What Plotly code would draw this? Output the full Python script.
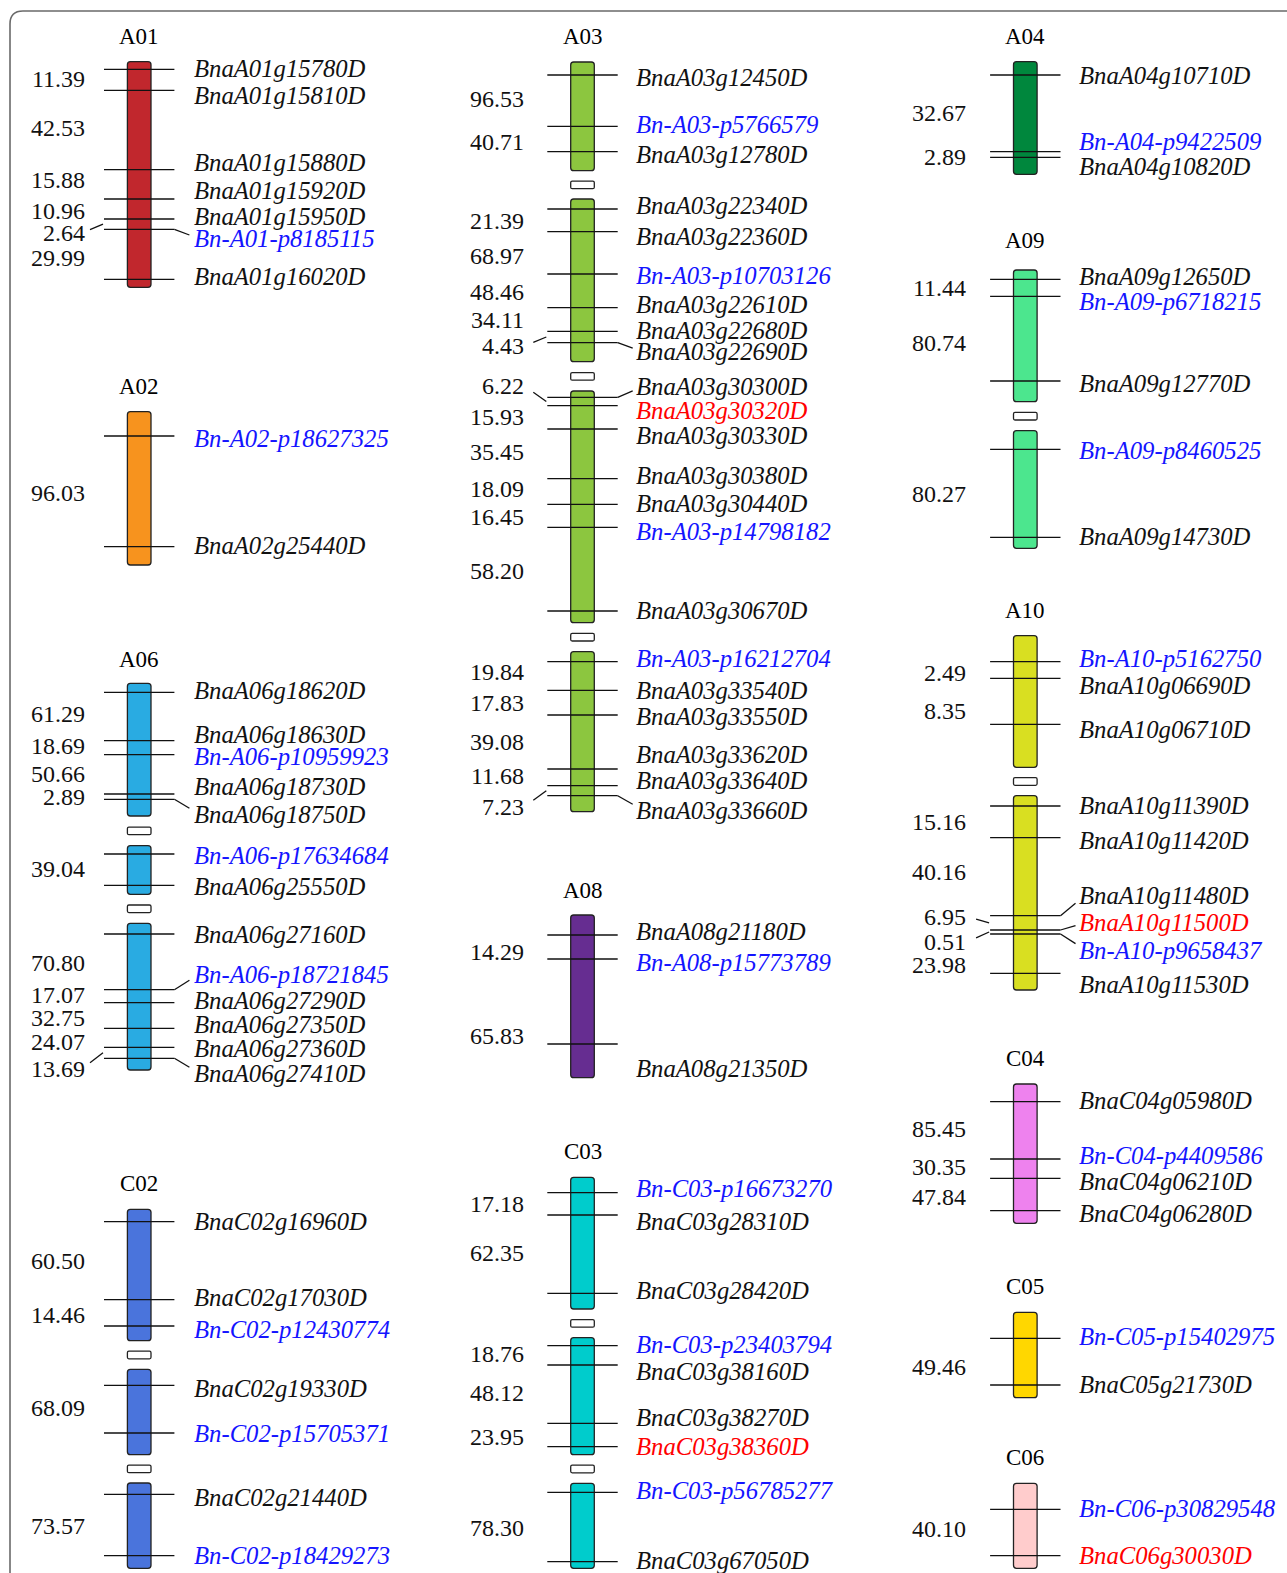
import plotly.graph_objects as go

W, H = 1287, 1573

# ------------------------------------------------------------------
# DATA (marker positions, in map units = px)
# ------------------------------------------------------------------
# ---- column 1 ----
A01_genes = ["BnaA01g15780D", "BnaA01g15810D", "BnaA01g15880D", "BnaA01g15920D",
             "BnaA01g15950D", "Bn-A01-p8185115", "BnaA01g16020D"]
A01_pos = [69.3, 90.3, 169.7, 199.0, 219.0, 229.3, 279.3]
A01_dist = ["11.39", "42.53", "15.88", "10.96", "2.64", "29.99"]
A01_segs = [(61.7, 287.3)]

A02_genes = ["Bn-A02-p18627325", "BnaA02g25440D"]
A02_pos = [436.0, 546.7]
A02_dist = ["96.03"]
A02_segs = [(411.7, 565.0)]

A06_genes = ["BnaA06g18620D", "BnaA06g18630D", "Bn-A06-p10959923", "BnaA06g18730D",
             "BnaA06g18750D", "Bn-A06-p17634684", "BnaA06g25550D", "BnaA06g27160D",
             "Bn-A06-p18721845", "BnaA06g27290D", "BnaA06g27350D", "BnaA06g27360D",
             "BnaA06g27410D"]
A06_pos = [692.3, 740.7, 754.7, 794.0, 799.3, 854.0, 885.3, 934.0, 989.7, 1002.7,
           1028.3, 1047.3, 1058.3]
A06_dist = ["61.29", "18.69", "50.66", "2.89", "39.04", "70.80", "17.07", "32.75",
            "24.07", "13.69"]
A06_segs = [(683.3, 816.0), (845.7, 894.3), (923.3, 1070.0)]

C02_genes = ["BnaC02g16960D", "BnaC02g17030D", "Bn-C02-p12430774", "BnaC02g19330D",
             "Bn-C02-p15705371", "BnaC02g21440D", "Bn-C02-p18429273"]
C02_pos = [1221.7, 1299.7, 1326.0, 1385.3, 1433.0, 1494.3, 1555.7]
C02_dist = ["60.50", "14.46", "68.09", "73.57"]
C02_segs = [(1209.3, 1340.7), (1369.3, 1454.7), (1483.0, 1568.3)]

# ---- column 2 ----
A03_genes = ["BnaA03g12450D", "Bn-A03-p5766579", "BnaA03g12780D", "BnaA03g22340D",
             "BnaA03g22360D", "Bn-A03-p10703126", "BnaA03g22610D", "BnaA03g22680D",
             "BnaA03g22690D", "BnaA03g30300D", "BnaA03g30320D", "BnaA03g30330D",
             "BnaA03g30380D", "BnaA03g30440D", "Bn-A03-p14798182", "BnaA03g30670D",
             "Bn-A03-p16212704", "BnaA03g33540D", "BnaA03g33550D", "BnaA03g33620D",
             "BnaA03g33640D", "BnaA03g33660D"]
A03_pos = [75.0, 126.3, 151.7, 209.0, 231.7, 274.0, 307.7, 331.3, 342.7, 397.3, 405.7,
           429.0, 478.7, 504.3, 527.3, 611.0, 661.7, 690.3, 715.0, 769.0, 785.7, 795.7]
A03_dist = ["96.53", "40.71", "21.39", "68.97", "48.46", "34.11", "4.43", "6.22",
            "15.93", "35.45", "18.09", "16.45", "58.20", "19.84", "17.83", "39.08",
            "11.68", "7.23"]
A03_segs = [(62.0, 170.7), (199.0, 361.7), (391.0, 622.7), (651.7, 811.7)]

A08_genes = ["BnaA08g21180D", "Bn-A08-p15773789", "BnaA08g21350D"]
A08_pos = [935.0, 959.0, 1044.0]
A08_dist = ["14.29", "65.83"]
A08_segs = [(915.0, 1077.7)]

C03_genes = ["Bn-C03-p16673270", "BnaC03g28310D", "BnaC03g28420D", "Bn-C03-p23403794",
             "BnaC03g38160D", "BnaC03g38270D", "BnaC03g38360D", "Bn-C03-p56785277",
             "BnaC03g67050D"]
C03_pos = [1192.7, 1215.0, 1293.3, 1345.7, 1365.0, 1423.3, 1446.7, 1492.3, 1561.7]
C03_dist = ["17.18", "62.35", "18.76", "48.12", "23.95", "78.30"]
C03_segs = [(1177.3, 1309.0), (1337.7, 1454.7), (1483.3, 1568.3)]

# ---- column 3 ----
A04_genes = ["BnaA04g10710D", "Bn-A04-p9422509", "BnaA04g10820D"]
A04_pos = [75.0, 151.7, 157.3]
A04_dist = ["32.67", "2.89"]
A04_segs = [(61.7, 174.3)]

A09_genes = ["BnaA09g12650D", "Bn-A09-p6718215", "BnaA09g12770D", "Bn-A09-p8460525",
             "BnaA09g14730D"]
A09_pos = [279.3, 296.3, 381.0, 449.3, 537.3]
A09_dist = ["11.44", "80.74", "80.27"]
A09_segs = [(270.0, 401.7), (430.7, 548.3)]

A10_genes = ["Bn-A10-p5162750", "BnaA10g06690D", "BnaA10g06710D", "BnaA10g11390D",
             "BnaA10g11420D", "BnaA10g11480D", "BnaA10g11500D", "Bn-A10-p9658437",
             "BnaA10g11530D"]
A10_pos = [661.7, 678.3, 724.3, 806.0, 837.7, 915.7, 930.0, 934.0, 973.3]
A10_dist = ["2.49", "8.35", "15.16", "40.16", "6.95", "0.51", "23.98"]
A10_segs = [(635.7, 767.3), (795.7, 990.0)]

C04_genes = ["BnaC04g05980D", "Bn-C04-p4409586", "BnaC04g06210D", "BnaC04g06280D"]
C04_pos = [1101.7, 1159.0, 1178.3, 1210.7]
C04_dist = ["85.45", "30.35", "47.84"]
C04_segs = [(1084.0, 1223.3)]

C05_genes = ["Bn-C05-p15402975", "BnaC05g21730D"]
C05_pos = [1338.3, 1385.0]
C05_dist = ["49.46"]
C05_segs = [(1312.3, 1397.7)]

C06_genes = ["Bn-C06-p30829548", "BnaC06g30030D"]
C06_pos = [1509.3, 1555.7]
C06_dist = ["40.10"]
C06_segs = [(1483.3, 1568.3)]

RED_GENES = ["BnaA03g30320D", "BnaA10g11500D", "BnaC03g38360D", "BnaC06g30030D"]

# ------------------------------------------------------------------
# LAYOUT (label placement, colours)
# ------------------------------------------------------------------
COL_CX = [139.2, 582.5, 1025.3]
LABEL_DX = [53.2, 51.7, 51.7]
DIST_DX = [-52.6, -56.9, -57.0]

CHROMS = [
    dict(name="A01", col=0, title_y=36.7, color="#C1272D", genes=A01_genes, pos=A01_pos,
         segs=A01_segs, dist=A01_dist,
         label_y=[68.5, 95.5, 162.5, 190.5, 216.7, 238.8, 276.8],
         dist_y=[79.3, 128.3, 180.0, 210.7, 233.3, 257.7],
         gene_leaders=[5], dist_leaders={4: 4}),
    dict(name="A02", col=0, title_y=386.7, color="#F7931E", genes=A02_genes, pos=A02_pos,
         segs=A02_segs, dist=A02_dist, label_y=[438.3, 545.0], dist_y=[492.7],
         gene_leaders=[], dist_leaders={}),
    dict(name="A06", col=0, title_y=659.3, color="#29ABE2", genes=A06_genes, pos=A06_pos,
         segs=A06_segs, dist=A06_dist,
         label_y=[690.0, 734.3, 756.7, 786.7, 814.3, 855.0, 886.0, 934.0, 974.0, 1000.0,
                  1024.3, 1048.7, 1073.3],
         dist_y=[714.0, 746.0, 774.0, 796.7, 869.3, 963.3, 995.0, 1018.3, 1041.7, 1069.3],
         gene_leaders=[4, 8, 12], dist_leaders={9: 11}),
    dict(name="C02", col=0, title_y=1183.3, color="#4A74DC", genes=C02_genes, pos=C02_pos,
         segs=C02_segs, dist=C02_dist,
         label_y=[1221.0, 1297.7, 1329.3, 1388.3, 1433.3, 1497.7, 1555.7],
         dist_y=[1260.7, 1315.0, 1408.3, 1526.0],
         gene_leaders=[], dist_leaders={}),
    dict(name="A03", col=1, title_y=36.7, color="#8CC63F", genes=A03_genes, pos=A03_pos,
         segs=A03_segs, dist=A03_dist,
         label_y=[77.3, 124.3, 154.3, 205.0, 236.7, 275.0, 304.0, 330.0, 351.7, 386.7,
                  410.7, 435.0, 475.0, 503.3, 531.7, 610.0, 658.3, 690.0, 716.0, 754.3,
                  780.0, 810.0],
         dist_y=[99.3, 141.7, 220.7, 256.0, 291.7, 320.0, 346.0, 386.0, 416.7, 452.3,
                 489.0, 517.3, 571.0, 671.7, 703.3, 742.3, 775.7, 806.7],
         gene_leaders=[8, 9, 21], dist_leaders={6: 7, 7: 9, 17: 20}),
    dict(name="A08", col=1, title_y=890.0, color="#662D91", genes=A08_genes, pos=A08_pos,
         segs=A08_segs, dist=A08_dist, label_y=[931.0, 962.7, 1068.7],
         dist_y=[951.7, 1035.7], gene_leaders=[], dist_leaders={}),
    dict(name="C03", col=1, title_y=1151.7, color="#00CCCC", genes=C03_genes, pos=C03_pos,
         segs=C03_segs, dist=C03_dist,
         label_y=[1188.3, 1221.7, 1290.7, 1344.0, 1371.0, 1417.3, 1446.7, 1490.7, 1560.0],
         dist_y=[1204.3, 1252.7, 1354.3, 1392.7, 1436.7, 1528.3],
         gene_leaders=[], dist_leaders={}),
    dict(name="A04", col=2, title_y=36.7, color="#00873D", genes=A04_genes, pos=A04_pos,
         segs=A04_segs, dist=A04_dist, label_y=[75.0, 141.7, 166.7],
         dist_y=[112.7, 156.7], gene_leaders=[], dist_leaders={}),
    dict(name="A09", col=2, title_y=240.7, color="#4CE68E", genes=A09_genes, pos=A09_pos,
         segs=A09_segs, dist=A09_dist, label_y=[276.0, 301.7, 383.3, 450.0, 536.7],
         dist_y=[288.3, 343.3, 494.0], gene_leaders=[], dist_leaders={}),
    dict(name="A10", col=2, title_y=610.0, color="#D9DF21", genes=A10_genes, pos=A10_pos,
         segs=A10_segs, dist=A10_dist,
         label_y=[658.3, 685.0, 729.3, 805.0, 840.0, 895.0, 922.7, 950.0, 984.3],
         dist_y=[673.3, 710.7, 821.7, 871.7, 916.7, 941.7, 965.0],
         gene_leaders=[5, 6, 7], dist_leaders={4: 5, 5: 6}),
    dict(name="C04", col=2, title_y=1058.3, color="#EE82EE", genes=C04_genes, pos=C04_pos,
         segs=C04_segs, dist=C04_dist, label_y=[1100.0, 1155.0, 1181.7, 1213.3],
         dist_y=[1129.0, 1167.0, 1197.3], gene_leaders=[], dist_leaders={}),
    dict(name="C05", col=2, title_y=1286.7, color="#FFD700", genes=C05_genes, pos=C05_pos,
         segs=C05_segs, dist=C05_dist, label_y=[1336.7, 1384.0], dist_y=[1366.7],
         gene_leaders=[], dist_leaders={}),
    dict(name="C06", col=2, title_y=1457.3, color="#FFCCCC", genes=C06_genes, pos=C06_pos,
         segs=C06_segs, dist=C06_dist, label_y=[1508.3, 1555.7], dist_y=[1529.3],
         gene_leaders=[], dist_leaders={}),
]

FONT = "Liberation Serif, Times New Roman, serif"
FS_TITLE = 23
FS_GENE = 24.7
FS_DIST = 24
BAR_HW = 11.8
LINE_HW = 35.2


def rrect(x0, y0, x1, y1, r=3.0):
    return (f"M{x0+r},{y0} L{x1-r},{y0} Q{x1},{y0} {x1},{y0+r} L{x1},{y1-r} "
            f"Q{x1},{y1} {x1-r},{y1} L{x0+r},{y1} Q{x0},{y1} {x0},{y1-r} "
            f"L{x0},{y0+r} Q{x0},{y0} {x0+r},{y0} Z")


shapes = []
annotations = []
lx, ly = [], []

# outer frame (top + left, rounded corner)
shapes.append(dict(type="path", xref="x", yref="y",
                   path="M10,1600 L10,24 Q10,11 23,11 L1300,11",
                   line=dict(color="#6a6a6a", width=1.6)))

for c in CHROMS:
    cx = COL_CX[c["col"]]
    # title
    annotations.append(dict(x=cx, y=c["title_y"], text=c["name"], showarrow=False,
                            xanchor="center", yanchor="middle",
                            font=dict(family=FONT, size=FS_TITLE, color="black")))
    # chromosome segments
    segs = c["segs"]
    for (t, b) in segs:
        shapes.append(dict(type="path", xref="x", yref="y", layer="below",
                           path=rrect(cx - BAR_HW, t, cx + BAR_HW, b, 3),
                           fillcolor=c["color"], line=dict(color="#222222", width=1.3)))
    # gap boxes between segments
    for i in range(len(segs) - 1):
        m = (segs[i][1] + segs[i + 1][0]) / 2
        shapes.append(dict(type="path", xref="x", yref="y", layer="below",
                           path=rrect(cx - BAR_HW, m - 3.8, cx + BAR_HW, m + 3.8, 1.5),
                           fillcolor="white", line=dict(color="#222222", width=1.3)))
    # marker lines
    for p in c["pos"]:
        lx += [cx - LINE_HW, cx + LINE_HW, None]
        ly += [p, p, None]
    # gene labels
    for i, (g, p, yl) in enumerate(zip(c["genes"], c["pos"], c["label_y"])):
        if g in RED_GENES:
            col = "#FF0000"
        elif g.startswith("Bn-"):
            col = "#1414FF"
        else:
            col = "#111111"
        annotations.append(dict(x=cx + LABEL_DX[c["col"]], y=yl, text=g, showarrow=False,
                                xanchor="left", yanchor="middle",
                                font=dict(family=FONT, size=FS_GENE, color=col,
                                          style="italic")))
        if i in c["gene_leaders"]:
            lx += [cx + LINE_HW, cx + LINE_HW + 15, None]
            ly += [p, p + 0.6 * (yl - p), None]
    # distance labels
    for j, (d, yd) in enumerate(zip(c["dist"], c["dist_y"])):
        annotations.append(dict(x=cx + DIST_DX[c["col"]], y=yd, text=d, showarrow=False,
                                xanchor="right", yanchor="middle",
                                font=dict(family=FONT, size=FS_DIST, color="#111111")))
        if j in c["dist_leaders"]:
            k = c["dist_leaders"][j]
            mid = (c["pos"][k] + c["pos"][k + 1]) / 2
            lx += [cx - LINE_HW - 1, cx - LINE_HW - 14, None]
            ly += [mid, mid + 0.6 * (yd - mid), None]

fig = go.Figure()
fig.add_trace(go.Scatter(x=lx, y=ly, mode="lines",
                         line=dict(color="#111111", width=1.3),
                         hoverinfo="skip", showlegend=False))

fig.update_layout(
    width=W, height=H,
    margin=dict(l=0, r=0, t=0, b=0),
    paper_bgcolor="white", plot_bgcolor="white",
    xaxis=dict(range=[0, W], visible=False, fixedrange=True),
    yaxis=dict(range=[H, 0], visible=False, fixedrange=True),
    shapes=shapes, annotations=annotations, showlegend=False,
)

fig.write_html("out.html")
